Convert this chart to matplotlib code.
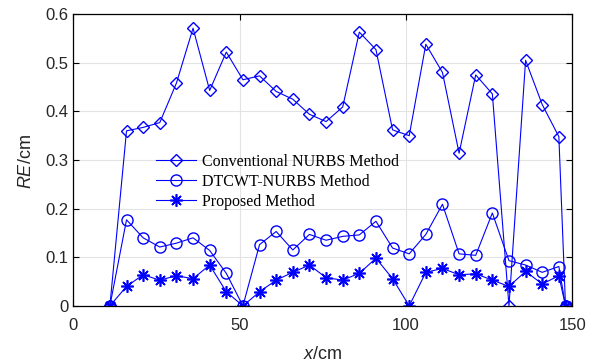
import matplotlib.pyplot as plt
import numpy as np

# x positions (cm)
x = [11, 16, 21, 26, 31, 36, 41, 46, 51, 56, 61, 66, 71, 76, 81, 86, 91, 96,
     101, 106, 111, 116, 121, 126, 131, 136, 141, 146, 148]

conventional = [0, 0.360, 0.367, 0.377, 0.458, 0.571, 0.443, 0.522, 0.465, 0.473,
                0.441, 0.425, 0.394, 0.379, 0.409, 0.563, 0.527, 0.362, 0.350, 0.538,
                0.480, 0.314, 0.475, 0.436, 0, 0.505, 0.414, 0.348, 0]
dtcwt = [0, 0.177, 0.140, 0.121, 0.129, 0.140, 0.114, 0.067, 0, 0.126,
         0.153, 0.115, 0.147, 0.135, 0.143, 0.146, 0.174, 0.119, 0.107, 0.147,
         0.209, 0.107, 0.104, 0.191, 0.093, 0.084, 0.069, 0.081, 0]
proposed = [0, 0.040, 0.064, 0.053, 0.062, 0.056, 0.084, 0.029, 0, 0.029,
            0.053, 0.069, 0.084, 0.058, 0.053, 0.067, 0.098, 0.056, 0, 0.069,
            0.077, 0.064, 0.066, 0.053, 0.040, 0.071, 0.045, 0.062, 0]

labels = ["Conventional NURBS Method", "DTCWT-NURBS Method", "Proposed Method"]

plt.rcParams['font.family'] = ['Liberation Sans', 'DejaVu Sans']
plt.rcParams['mathtext.fontset'] = 'custom'
plt.rcParams['mathtext.it'] = 'Liberation Sans:italic'
plt.rcParams['mathtext.rm'] = 'Liberation Sans'

fig, ax = plt.subplots(figsize=(5.96, 3.62), dpi=100)
fig.subplots_adjust(left=0.123, right=0.96, top=0.961, bottom=0.155)

blue = (0, 0, 1)
ax.plot(x, conventional, color=blue, lw=0.8, marker='D', ms=6.5, mfc='none', mew=1.0,
        label=labels[0])
ax.plot(x, dtcwt, color=blue, lw=0.8, marker='o', ms=8, mfc='none', mew=1.0,
        label=labels[1])
ax.plot(x, proposed, color=blue, lw=0.8, marker=(8, 2, 0), ms=9, mew=1.2,
        label=labels[2])

ax.set_xlim(0, 150)
ax.set_ylim(0, 0.6)
ax.set_xticks([0, 50, 100, 150])
ax.set_yticks(np.arange(0, 0.61, 0.1))
ax.set_yticklabels(['0', '0.1', '0.2', '0.3', '0.4', '0.5', '0.6'])
ax.grid(True, color='#e3e3e3', lw=0.8)
ax.set_axisbelow(True)
ax.tick_params(direction='in', top=True, right=True, labelsize=12, length=4,
               labelcolor='#262626')
ax.tick_params(axis='x', pad=9)
for s in ax.spines.values():
    s.set_linewidth(0.9)

ax.set_xlabel(r'$x$/cm', fontsize=13, labelpad=9, color='#262626')
fig.text(0.045, 0.555, r'$RE$/cm', rotation=90, fontsize=13, ha='center',
         va='center', color='#262626')

ax.legend(loc='upper left', bbox_to_anchor=(0.137, 0.57), frameon=False,
          prop={'family': 'Liberation Serif', 'size': 11.5},
          handlelength=2.5, handletextpad=0.4, labelspacing=0.25)

plt.savefig('out.png', dpi=100)
